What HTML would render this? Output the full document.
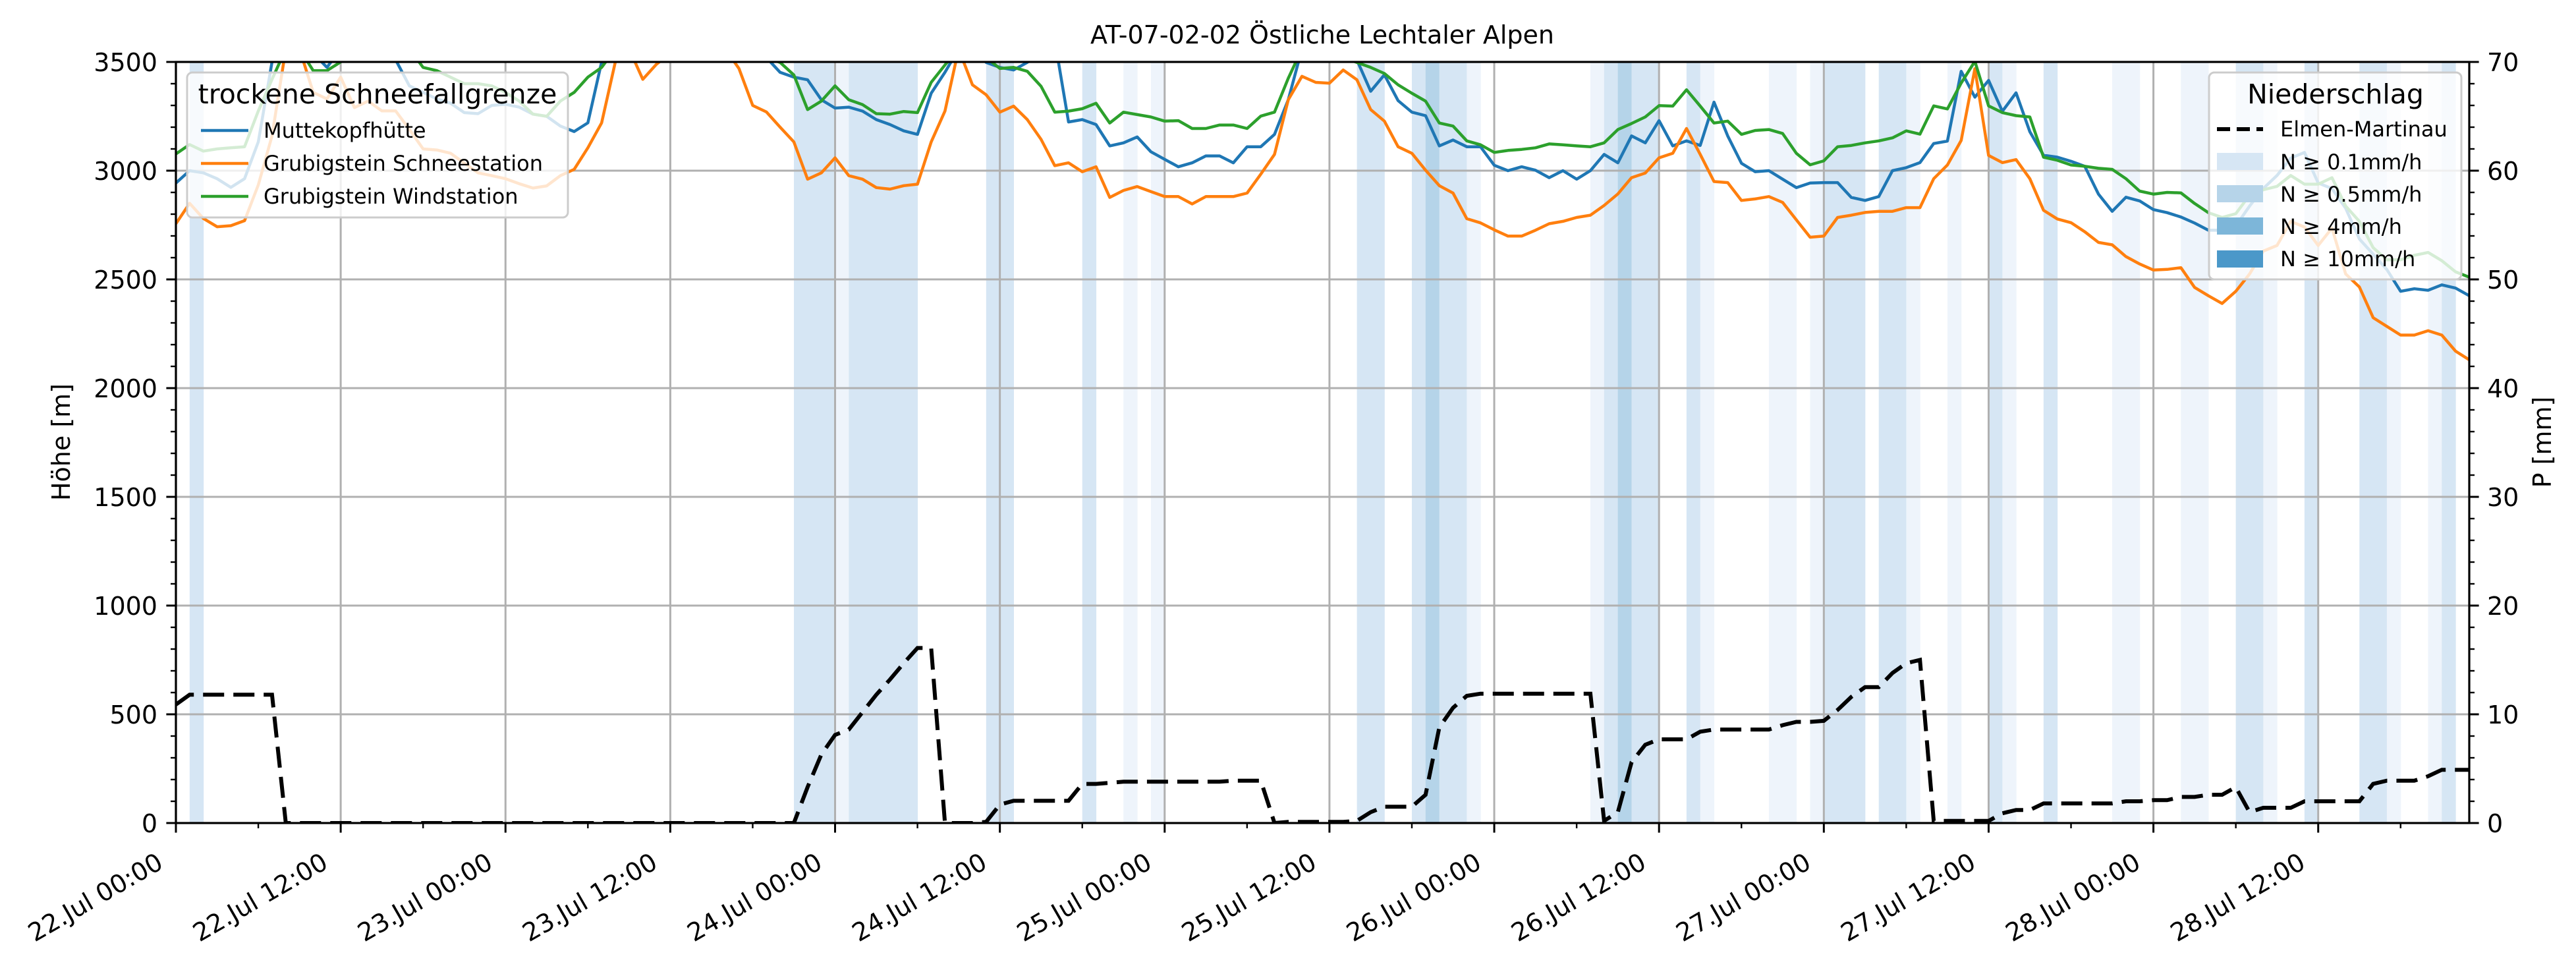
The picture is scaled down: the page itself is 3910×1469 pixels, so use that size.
<!DOCTYPE html>
<html><head><meta charset="utf-8"><title>AT-07-02-02 Östliche Lechtaler Alpen</title>
<style>html,body{margin:0;padding:0;background:#fff;}svg{display:block;font-family:"DejaVu Sans","Liberation Sans",sans-serif;}</style>
</head><body>
<svg id="chart" xmlns="http://www.w3.org/2000/svg" width="3910" height="1469" viewBox="0 0 3910 1469">
<defs><clipPath id="plotclip"><rect x="267" y="94" width="3481" height="1155"/></clipPath></defs>
<g id="bands" clip-path="url(#plotclip)"></g>
<g id="grid"></g>
<g id="series" clip-path="url(#plotclip)"></g>
<g id="axes"></g>
<text x="2007" y="66" font-size="38" text-anchor="middle">AT-07-02-02 Östliche Lechtaler Alpen</text>
<text transform="translate(106,671) rotate(-90)" font-size="38" text-anchor="middle">Höhe [m]</text>
<text transform="translate(3872,671) rotate(-90)" font-size="38" text-anchor="middle">P [mm]</text>

<g>
  <rect x="284" y="110" width="578" height="220" rx="8" fill="#fff" fill-opacity="0.8" stroke="#cccccc" stroke-width="3"/>
  <text x="573" y="157" font-size="41" text-anchor="middle">trockene Schneefallgrenze</text>
  <line x1="305" y1="198" x2="377" y2="198" stroke="#1f77b4" stroke-width="4.5"/>
  <text x="400" y="209" font-size="32">Muttekopfhütte</text>
  <line x1="305" y1="248" x2="377" y2="248" stroke="#ff7f0e" stroke-width="4.5"/>
  <text x="400" y="259" font-size="32">Grubigstein Schneestation</text>
  <line x1="305" y1="298" x2="377" y2="298" stroke="#2ca02c" stroke-width="4.5"/>
  <text x="400" y="309" font-size="32">Grubigstein Windstation</text>
</g>
<g>
  <rect x="3353" y="110" width="383" height="314" rx="8" fill="#fff" fill-opacity="0.8" stroke="#cccccc" stroke-width="3"/>
  <text x="3545" y="157" font-size="41" text-anchor="middle">Niederschlag</text>
  <line x1="3365" y1="196" x2="3435" y2="196" stroke="#000" stroke-width="6" stroke-dasharray="20,10"/>
  <text x="3461" y="207" font-size="32">Elmen-Martinau</text>
  <rect x="3365" y="232" width="70" height="26" fill="#d6e6f4"/>
  <text x="3461" y="257" font-size="32">N ≥ 0.1mm/h</text>
  <rect x="3365" y="281" width="70" height="26" fill="#b6d4e9"/>
  <text x="3461" y="306" font-size="32">N ≥ 0.5mm/h</text>
  <rect x="3365" y="330" width="70" height="26" fill="#7db6d9"/>
  <text x="3461" y="355" font-size="32">N ≥ 4mm/h</text>
  <rect x="3365" y="380" width="70" height="26" fill="#4b98c9"/>
  <text x="3461" y="404" font-size="32">N ≥ 10mm/h</text>
</g>
</svg>
<script>
const hours = Array.from({length:168},(_, i)=>i);
const muttekopf = [2943,3000,2990,2963,2923,2963,3133,3500,3560,3560,3540,3475,3560,3560,3560,3560,3510,3390,3360,3330,3310,3267,3262,3300,3305,3292,3260,3250,3205,3180,3220,3500,
3560,3560,3560,3560,3560,3560,3560,3560,3560,3560,3560,3520,3452,3430,3418,3326,3288,3292,3274,3235,3212,3183,3167,3356,3452,3560,3560,3498,3475,3463,3498,3550,3600,3224,3235,3212,3114,3128,3155,3087,3052,3018,3036,3068,3068,3036,3110,3110,3167,3326,3560,3560,3560,3530,3509,3365,3441,3322,3269,3253,3114,3141,3110,3110,3025,3000,3018,3002,2968,3000,2961,3000,3075,3036,3160,3128,3230,3114,3137,3116,3315,3160,3034,2995,3000,2961,2922,2943,2945,2945,2877,2863,2881,3000,3014,3037,3125,3136,3457,3338,3415,3273,3358,3179,3071,3062,3043,3020,2892,2813,2878,2861,2821,2807,2787,2759,2726,2726,2746,2837,2918,2978,3058,3084,2943,2918,2827,2686,2616,2545,2445,2457,2450,2475,2460,2425];
const schneestation = [2756,2850,2780,2742,2747,2770,2935,3160,3560,3560,3360,3330,3430,3290,3320,3275,3275,3190,3100,3095,3080,3035,2990,2977,2963,2940,2920,2930,2977,3006,3105,3220,3500,3560,3420,3490,3540,3560,3560,3560,3560,3470,3300,3270,3200,3132,2961,2990,3059,2977,2961,2922,2915,2931,2938,3132,3274,3560,3395,3349,3269,3297,3235,3144,3023,3036,2995,3018,2877,2909,2927,2904,2881,2881,2847,2881,2881,2881,2897,2984,3075,3326,3434,3406,3402,3463,3418,3281,3228,3110,3080,3002,2931,2897,2779,2760,2728,2699,2699,2726,2756,2767,2785,2795,2840,2893,2968,2989,3059,3080,3194,3075,2950,2945,2863,2870,2881,2854,2774,2694,2699,2785,2795,2808,2813,2813,2830,2830,2963,3026,3139,3469,3070,3037,3051,2963,2818,2778,2761,2719,2670,2659,2605,2571,2543,2546,2554,2463,2425,2389,2445,2525,2630,2656,2767,2741,2656,2736,2525,2465,2324,2284,2244,2244,2264,2244,2170,2130];
const windstation = [3077,3120,3090,3100,3105,3110,3275,3420,3560,3560,3460,3460,3500,3560,3560,3560,3560,3560,3475,3460,3430,3400,3400,3390,3360,3320,3260,3250,3320,3360,3430,3475,3560,3560,3560,3560,3560,3560,3560,3560,3560,3560,3560,3520,3498,3440,3281,3320,3390,3326,3304,3262,3260,3272,3267,3406,3486,3560,3560,3520,3470,3475,3457,3388,3269,3274,3285,3310,3219,3269,3258,3247,3228,3230,3194,3194,3210,3210,3194,3251,3269,3425,3560,3560,3502,3520,3498,3475,3447,3395,3356,3320,3219,3205,3137,3119,3084,3093,3098,3105,3123,3119,3114,3110,3128,3189,3217,3247,3299,3297,3372,3297,3219,3228,3167,3185,3189,3171,3080,3027,3045,3110,3116,3128,3137,3151,3183,3168,3298,3284,3403,3503,3298,3267,3253,3247,3062,3048,3026,3020,3011,3006,2963,2906,2892,2900,2898,2849,2807,2785,2802,2887,2912,2928,2978,2938,2938,2968,2837,2767,2646,2590,2590,2611,2624,2586,2535,2510];
const precipSum = [10.9,11.8,11.8,11.8,11.8,11.8,11.8,11.8,
0,0,0,0,0,0,0,0,0,0,0,0,0,0,0,0,0,0,0,0,0,0,0,0,0,0,0,0,0,0,0,0,0,0,0,0,0,0,
3.3,6.3,8.1,8.6,10.2,11.8,13.2,14.7,16.1,16.1,
0,0,0,0.1,1.7,2.05,2.05,2.05,2.05,2.05,3.6,3.6,3.7,
3.8,3.8,3.8,3.8,3.8,3.8,3.8,3.8,3.9,3.9,3.9,
0,0.1,0.1,0.1,0.1,0.1,0.2,1,1.5,1.5,1.5,2.6,8.8,10.6,11.7,
11.9,11.9,11.9,11.9,11.9,11.9,11.9,11.9,11.9,
0.2,1,5.6,7.2,7.7,7.7,7.7,8.4,8.6,8.6,8.6,8.6,8.6,
9.0,9.3,9.3,9.4,10.4,11.6,12.5,12.5,13.8,14.7,15,
0.2,0.2,0.2,0.2,0.2,0.9,1.2,1.2,1.8,1.8,1.8,1.8,1.8,1.8,
2,2,2.1,2.1,2.4,2.4,2.6,2.6,3.3,1.0,1.4,1.4,1.4,
2,2,2,2,2,3.6,3.9,3.9,3.9,4.3,4.9,4.9,4.9];
const rainHours = [1,45,46,47,48,49,50,51,52,53,59,60,66,69,71,86,87,90,91,92,93,94,103,104,105,106,107,110,111,116,117,119,120,121,122,124,125,126,129,132,133,136,141,142,146,147,150,151,152,155,159,160,161,164,165];
const rainLevel = [2,2,2,2,1,2,2,2,2,2,2,2,2,1,1,2,2,2,3,2,2,1,1,2,3,2,2,2,1,1,1,1,2,2,2,2,2,1,1,2,1,2,1,1,1,1,2,2,1,2,2,2,1,1,2];
const leftTicks = [0,500,1000,1500,2000,2500,3000,3500];
const rightTicks = [0,10,20,30,40,50,60,70];
const xTickHours = [0,12,24,36,48,60,72,84,96,108,120,132,144,156];
const xTickLabels = ["22.Jul 00:00","22.Jul 12:00","23.Jul 00:00","23.Jul 12:00","24.Jul 00:00","24.Jul 12:00","25.Jul 00:00","25.Jul 12:00","26.Jul 00:00","26.Jul 12:00","27.Jul 00:00","27.Jul 12:00","28.Jul 00:00","28.Jul 12:00"];

const X0=267,X1=3748,Y0=94,Y1=1249,HMAX=167;
function xs(h){return X0+h*(X1-X0)/HMAX;}
function yL(m){return Y1-m*(Y1-Y0)/3500;}
function yR(p){return Y1-p*(Y1-Y0)/70;}
const NS="http://www.w3.org/2000/svg";
function mk(tag,attrs,parent){const e=document.createElementNS(NS,tag);for(const k in attrs)e.setAttribute(k,attrs[k]);parent.appendChild(e);return e;}
const bandColors={1:"#eef4fb",2:"#d6e6f4",3:"#b5d4e9"};
const gB=document.getElementById('bands'),gG=document.getElementById('grid'),gS=document.getElementById('series'),gA=document.getElementById('axes');

rainHours.forEach((h,i)=>{
  const r=mk('rect',{x:xs(h),y:Y0,width:xs(h+1)-xs(h)+0.5,height:Y1-Y0,fill:bandColors[rainLevel[i]]},gB);
  
  
});
leftTicks.forEach(v=>{
  const l=mk('line',{x1:X0,x2:X1,y1:yL(v),y2:yL(v),stroke:"#b0b0b0","stroke-width":3},gG);
  
  
});
xTickHours.forEach(h=>{
  const l=mk('line',{x1:xs(h),x2:xs(h),y1:Y0,y2:Y1,stroke:"#b0b0b0","stroke-width":3},gG);
  
  
});
function pts(arr,f){return hours.map(h=>xs(h).toFixed(1)+","+f(arr[h]).toFixed(1)).join(" ");}
const s1=mk('polyline',{points:pts(muttekopf,yL),fill:"none",stroke:"#1f77b4","stroke-width":4.5,"stroke-linejoin":"round"},gS);


const s2=mk('polyline',{points:pts(schneestation,yL),fill:"none",stroke:"#ff7f0e","stroke-width":4.5,"stroke-linejoin":"round"},gS);


const s3=mk('polyline',{points:pts(windstation,yL),fill:"none",stroke:"#2ca02c","stroke-width":4.5,"stroke-linejoin":"round"},gS);


const s4=mk('polyline',{points:pts(precipSum,yR),fill:"none",stroke:"#000","stroke-width":6,"stroke-dasharray":"32,14"},gS);



const sp=mk('rect',{x:X0,y:Y0,width:X1-X0,height:Y1-Y0,fill:"none",stroke:"#000","stroke-width":3.2},gA);


leftTicks.forEach(v=>{
  mk('line',{x1:X0-14.6,x2:X0,y1:yL(v),y2:yL(v),stroke:"#000","stroke-width":3},gA);
  const t=mk('text',{x:X0-28,y:yL(v)+14,"font-size":38,"text-anchor":"end"},gA);
  t.textContent=v;
  
  
});
for(let m=100;m<3500;m+=100){ if(m%500) mk('line',{x1:X0-8,x2:X0,y1:yL(m),y2:yL(m),stroke:"#000","stroke-width":2.4},gA); }
rightTicks.forEach(v=>{
  mk('line',{x1:X1,x2:X1+14.6,y1:yR(v),y2:yR(v),stroke:"#000","stroke-width":3},gA);
  const t=mk('text',{x:X1+27,y:yR(v)+14,"font-size":38},gA);
  t.textContent=v;
  
  
});
for(let p=2;p<70;p+=2){ if(p%10) mk('line',{x1:X1,x2:X1+8,y1:yR(p),y2:yR(p),stroke:"#000","stroke-width":2.4},gA); }
xTickHours.forEach((h,i)=>{
  mk('line',{x1:xs(h),x2:xs(h),y1:Y1,y2:Y1+14.6,stroke:"#000","stroke-width":3},gA);
  mk('line',{x1:xs(h+6),x2:xs(h+6),y1:Y1,y2:Y1+8,stroke:"#000","stroke-width":2.4},gA);
  const t=mk('text',{transform:"translate("+(xs(h)-17)+",1316) rotate(-30)","font-size":38,"text-anchor":"end"},gA);
  t.textContent=xTickLabels[i];
  
  
});
</script>
</body></html>
